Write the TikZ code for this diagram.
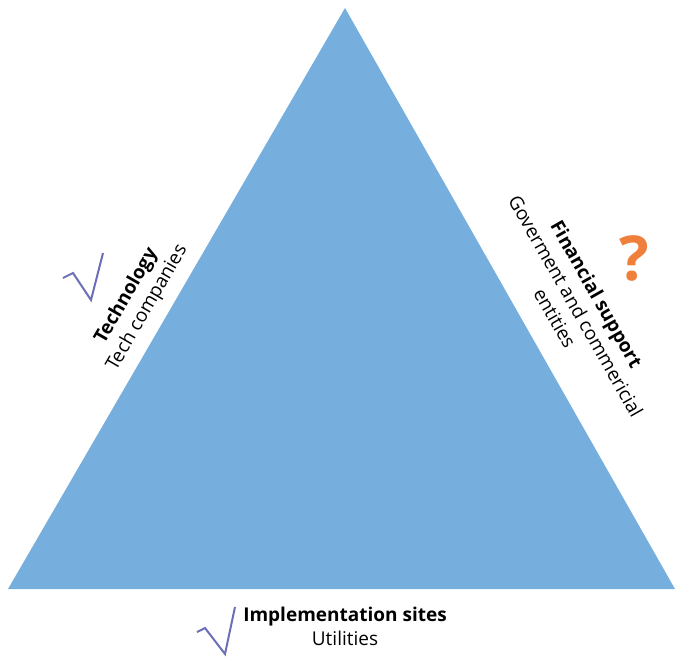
\documentclass[tikz,border=0pt]{standalone}
\usepackage{fontspec}
\setmainfont{Open Sans}
\definecolor{triblue}{HTML}{76AFDE}
\definecolor{checkcol}{HTML}{6B6FB8}
\definecolor{qorange}{HTML}{F07F3C}
\begin{document}
\begin{tikzpicture}[x=1pt,y=-1pt,
  lbl/.style={inner sep=0pt, align=center, font=\fontsize{19}{24}\selectfont},
  checkmark/.style={draw=checkcol, line width=2pt, line join=miter}]
\useasboundingbox (0,0) rectangle (675,672);
\fill[triblue] (345,8) -- (675,589) -- (8,589) -- cycle;
\node[lbl, rotate=60] (tech) at (137,302) {\textbf{Technology}\\Tech companies};
\node[lbl, rotate=-60.4] (fin) at (576,306) {\textbf{Financial support}\\Goverment and commericial\\entities};
\node[lbl] (impl) at (345,626) {\textbf{Implementation sites}\\Utilities};
\node[inner sep=0pt, text=qorange, font=\fontsize{62}{62}\selectfont\bfseries] (q) at (634,258) {?};
\draw[checkmark] (63,278) -- (73,273) -- (91,300) -- (103,253);
\draw[checkmark] (197,632) -- (205,628) -- (225,654) -- (235,607);
\end{tikzpicture}
\end{document}
